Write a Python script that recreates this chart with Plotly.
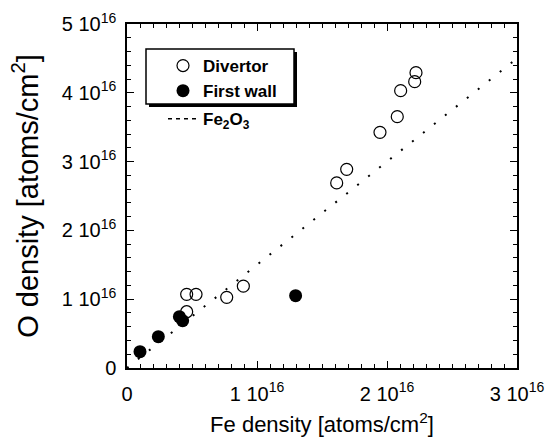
import plotly.graph_objects as go

# Data (atoms/cm^2)
divertor_fe = [0.459e16, 0.531e16, 0.459e16, 0.767e16, 0.895e16, 1.613e16, 1.690e16,
               1.946e16, 2.079e16, 2.105e16, 2.213e16, 2.223e16]
divertor_o = [1.071e16, 1.071e16, 0.818e16, 1.027e16, 1.190e16, 2.690e16, 2.888e16,
              3.425e16, 3.653e16, 4.031e16, 4.162e16, 4.293e16]
firstwall_fe = [0.100e16, 0.241e16, 0.403e16, 0.428e16, 1.297e16]
firstwall_o = [0.237e16, 0.455e16, 0.746e16, 0.688e16, 1.051e16]
fe2o3_fe = [0.0, 3.0e16]
fe2o3_o = [0.0, 4.5e16]

x_tickvals = [0, 1e16, 2e16, 3e16]
x_ticktext = ["0", "1 10<sup>16</sup>", "2 10<sup>16</sup>", "3 10<sup>16</sup>"]
y_tickvals = [0, 1e16, 2e16, 3e16, 4e16, 5e16]
y_ticktext = ["0", "1 10<sup>16</sup>", "2 10<sup>16</sup>", "3 10<sup>16</sup>",
              "4 10<sup>16</sup>", "5 10<sup>16</sup>"]

FONT = "Liberation Sans, Arial, sans-serif"

fig = go.Figure()
fig.add_trace(go.Scatter(
    x=fe2o3_fe, y=fe2o3_o, mode="lines", showlegend=False,
    line=dict(color="black", width=2, dash="2px,12px")))
fig.add_trace(go.Scatter(
    x=divertor_fe, y=divertor_o, mode="markers", name="Divertor",
    legendgroup="a",
    marker=dict(symbol="circle-open", size=12, color="black", line=dict(width=1.2))))
fig.add_trace(go.Scatter(
    x=firstwall_fe, y=firstwall_o, mode="markers", name="First wall",
    legendgroup="a",
    marker=dict(symbol="circle", size=13, color="black")))
fig.add_trace(go.Scatter(
    x=[None], y=[None], mode="lines", name="Fe<sub>2</sub>O<sub>3</sub>",
    legendgroup="b",
    line=dict(color="black", width=1.5, dash="4px,4px")))

axis_common = dict(
    showgrid=False, zeroline=False, showline=True, linecolor="black", linewidth=1.5,
    mirror="allticks", ticks="inside", ticklen=7, tickwidth=1.2, tickcolor="black",
    tickmode="array", automargin=False,
)

fig.update_xaxes(**axis_common, range=[0, 3e16], tickvals=x_tickvals, ticktext=x_ticktext,
                 ticklabelstandoff=7,
                 tickfont=dict(family=FONT, size=20, color="black"),
                 minor=dict(tick0=0, dtick=0.1e16, ticks="inside", ticklen=4,
                            tickwidth=1, tickcolor="black"),
                 title=dict(text="Fe density [atoms/cm<sup>2</sup>]",
                            font=dict(family=FONT, size=22, color="black"), standoff=15))
fig.update_yaxes(**axis_common, range=[0, 5e16], tickvals=y_tickvals, ticktext=y_ticktext,
                 ticklabelstandoff=5,
                 tickfont=dict(family=FONT, size=20, color="black"),
                 minor=dict(tick0=0, dtick=0.2e16, ticks="inside", ticklen=4,
                            tickwidth=1, tickcolor="black"),
                 title=dict(text="O density [atoms/cm<sup>2</sup>]",
                            font=dict(family=FONT, size=29, color="black"), standoff=15))

def px2x(px):
    return (px - 127) / 390.0

def py2y(py):
    return (368 - py) / 344.0

shapes = [
    dict(type="rect", xref="paper", yref="paper", layer="above",
         x0=px2x(149), x1=px2x(297), y0=py2y(107), y1=py2y(52),
         fillcolor="black", line=dict(width=0)),
    dict(type="rect", xref="paper", yref="paper", layer="above",
         x0=px2x(146), x1=px2x(294), y0=py2y(104), y1=py2y(49),
         fillcolor="white", line=dict(color="black", width=1.5)),
]

fig.update_layout(
    width=554, height=437,
    margin=dict(l=127, r=37, t=24, b=69, autoexpand=False),
    paper_bgcolor="white", plot_bgcolor="white",
    shapes=shapes,
    showlegend=True,
    legend=dict(x=px2x(163), y=py2y(48), xanchor="left", yanchor="top",
                bgcolor="rgba(0,0,0,0)", borderwidth=0,
                font=dict(family=FONT, size=17, color="black", weight="bold"),
                tracegroupgap=3, itemsizing="trace"),
)

fig.write_html("out.html")
